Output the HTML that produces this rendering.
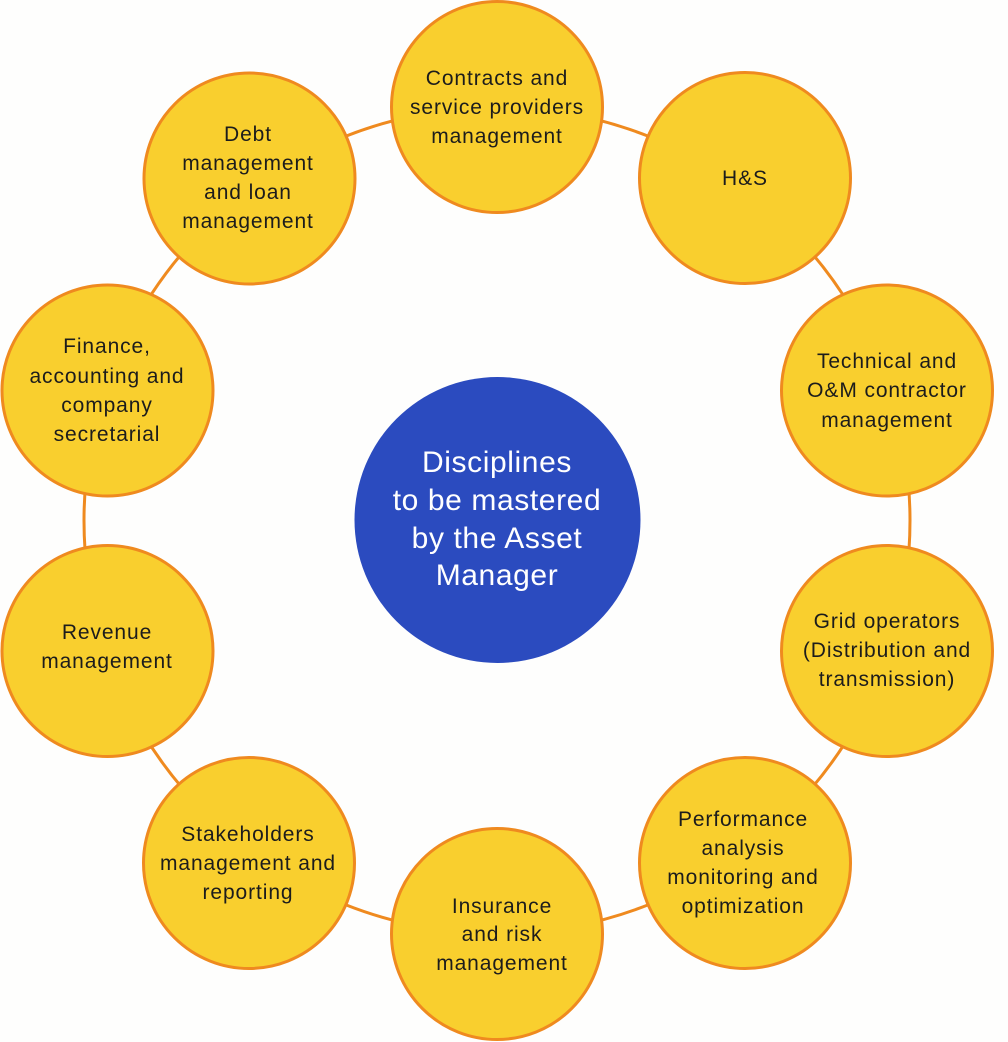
<!DOCTYPE html>
<html>
<head>
<meta charset="utf-8">
<style>
  html, body { margin:0; padding:0; background:#fefefd; }
  svg { display:block; }
  .t { font-family: "Liberation Sans", sans-serif; font-size:21px; letter-spacing:0.9px; fill:#1c1c1c; text-anchor:middle; }
  .c { font-family: "Liberation Sans", sans-serif; font-size:30px; letter-spacing:0.6px; fill:#ffffff; text-anchor:middle; }
  .n { fill:#f9cf2e; stroke:#ef8a1f; stroke-width:3; }
</style>
</head>
<body>
<svg width="1008" height="1042" viewBox="0 0 1008 1042" xmlns="http://www.w3.org/2000/svg">
  <rect x="0" y="0" width="1008" height="1042" fill="#fefefd"/>
  <circle cx="497" cy="520.5" r="413" fill="none" stroke="#ef8a1f" stroke-width="3"/>

  <circle cx="497.5" cy="520" r="143" fill="#2b4bbf"/>
  <text class="c" x="497" y="472">Disciplines</text>
  <text class="c" x="497" y="510">to be mastered</text>
  <text class="c" x="497" y="548">by the Asset</text>
  <text class="c" x="497" y="585">Manager</text>

  <!-- Contracts -->
  <circle class="n" cx="497" cy="107" r="105.5"/>
  <text class="t" x="497" y="85">Contracts and</text>
  <text class="t" x="497" y="114">service providers</text>
  <text class="t" x="497" y="143">management</text>

  <!-- H&S -->
  <circle class="n" cx="745" cy="178" r="105.5"/>
  <text class="t" x="745" y="185">H&amp;S</text>

  <!-- Technical -->
  <circle class="n" cx="887" cy="390.5" r="105.5"/>
  <text class="t" x="887" y="368">Technical and</text>
  <text class="t" x="887" y="397">O&amp;M contractor</text>
  <text class="t" x="887" y="427">management</text>

  <!-- Grid -->
  <circle class="n" cx="887" cy="651" r="105.5"/>
  <text class="t" x="887" y="628">Grid operators</text>
  <text class="t" x="887" y="657">(Distribution and</text>
  <text class="t" x="887" y="686">transmission)</text>

  <!-- Performance -->
  <circle class="n" cx="745" cy="863" r="105.5"/>
  <text class="t" x="743" y="826">Performance</text>
  <text class="t" x="743" y="855">analysis</text>
  <text class="t" x="743" y="884">monitoring and</text>
  <text class="t" x="743" y="913">optimization</text>

  <!-- Insurance -->
  <circle class="n" cx="497" cy="934" r="105.5"/>
  <text class="t" x="502" y="913">Insurance</text>
  <text class="t" x="502" y="941">and risk</text>
  <text class="t" x="502" y="970">management</text>

  <!-- Stakeholders -->
  <circle class="n" cx="249" cy="863" r="105.5"/>
  <text class="t" x="248" y="841">Stakeholders</text>
  <text class="t" x="248" y="870">management and</text>
  <text class="t" x="248" y="899">reporting</text>

  <!-- Revenue -->
  <circle class="n" cx="107.5" cy="651" r="105.5"/>
  <text class="t" x="107" y="639">Revenue</text>
  <text class="t" x="107" y="668">management</text>

  <!-- Finance -->
  <circle class="n" cx="107.5" cy="390.5" r="105.5"/>
  <text class="t" x="107" y="353">Finance,</text>
  <text class="t" x="107" y="383">accounting and</text>
  <text class="t" x="107" y="412">company</text>
  <text class="t" x="107" y="441">secretarial</text>

  <!-- Debt -->
  <circle class="n" cx="249.5" cy="178.5" r="105.5"/>
  <text class="t" x="248" y="141">Debt</text>
  <text class="t" x="248" y="170">management</text>
  <text class="t" x="248" y="199">and loan</text>
  <text class="t" x="248" y="228">management</text>
</svg>
</body>
</html>
